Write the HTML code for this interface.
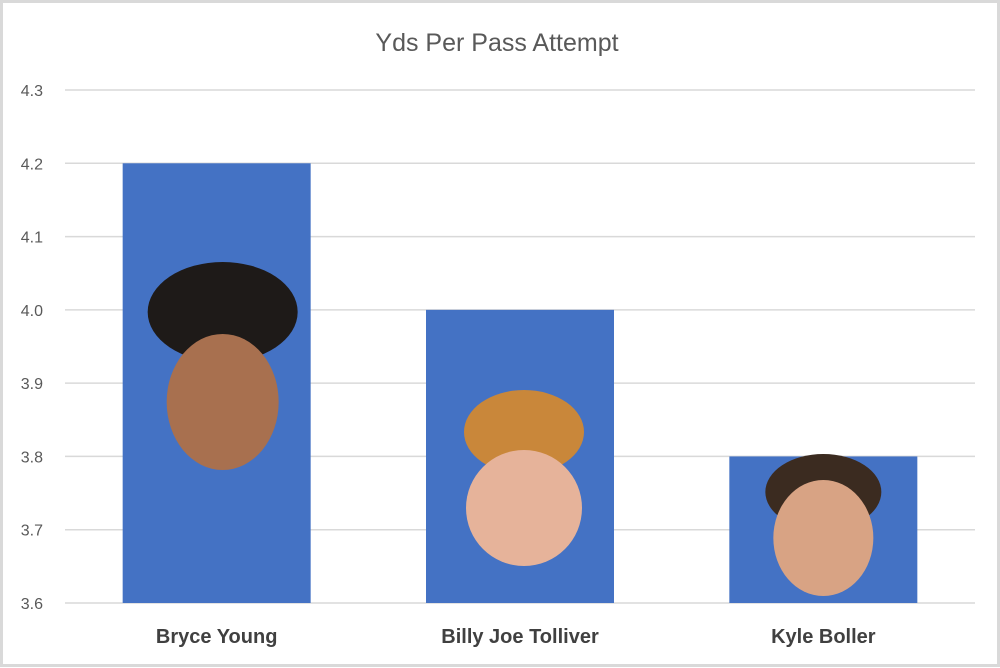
<!DOCTYPE html>
<html><head><meta charset="utf-8"><style>
html,body{margin:0;padding:0;background:#fff;}
#wrap{position:relative;width:1000px;height:668px;overflow:hidden;}
svg text{font-family:"Liberation Sans",sans-serif;}
</style></head><body>
<div id="wrap">
<svg id="chart" width="1000" height="668" viewBox="0 0 1000 668">
<rect x="1.5" y="1.5" width="997" height="664" fill="#fff" stroke="#d9d9d9" stroke-width="3"/>
<text x="497" y="51" text-anchor="middle" font-size="25" fill="#595959">Yds Per Pass Attempt</text>
<g id="grid"></g><g id="bars"></g><g id="faces"></g><g id="labels"></g>
</svg>
</div>
<script>
const categories = ["Bryce Young","Billy Joe Tolliver","Kyle Boller"];
const values = [4.2, 4.0, 3.8];
const ticks = [3.6,3.7,3.8,3.9,4.0,4.1,4.2,4.3];
const yMin=3.6,yMax=4.3,plotTop=90,plotBottom=603,plotLeft=65,plotRight=975;
const NS="http://www.w3.org/2000/svg";
function y(v){return plotBottom-(v-yMin)/(yMax-yMin)*(plotBottom-plotTop);}
const band=(plotRight-plotLeft)/categories.length;
function xc(i){return plotLeft+band*(i+0.5);}
const bw=188;
function mk(t,a,p){const e=document.createElementNS(NS,t);for(const k in a)e.setAttribute(k,a[k]);p.appendChild(e);return e;}
const grid=document.getElementById('grid');
ticks.forEach(t=>{
  const l=mk('line',{x1:plotLeft,x2:plotRight,y1:y(t),y2:y(t),stroke:'#d9d9d9','stroke-width':1.5},grid);
  
  
  const tx=mk('text',{x:43,y:y(t)+6,'text-anchor':'end','font-size':16,fill:'#595959'},grid);
  tx.textContent=t.toFixed(1);
  
  
});
const bars=document.getElementById('bars'),labels=document.getElementById('labels'),faces=document.getElementById('faces');
categories.forEach((c,i)=>{
  const b=mk('rect',{x:xc(i)-bw/2,y:y(values[i]),width:bw,height:plotBottom-y(values[i]),fill:'#4472c4'},bars);
  
  
  const t=mk('text',{x:xc(i),y:643,'text-anchor':'middle','font-size':20,'font-weight':'bold',fill:'#404040'},labels);
  t.textContent=c;
  
  
});
const fd=[
 {cx:xc(0)+6,hair:'#1e1a18',skin:'#a8704f',hy:312,hrx:75,hry:50,fy:402,frx:56,fry:68},
 {cx:xc(1)+4,hair:'#c9873a',skin:'#e6b39a',hy:432,hrx:60,hry:42,fy:508,frx:58,fry:58},
 {cx:xc(2),hair:'#3b2b20',skin:'#d8a384',hy:492,hrx:58,hry:38,fy:538,frx:50,fry:58}
];
fd.forEach(f=>{
  const g=mk('g',{},faces);
  
  
  mk('ellipse',{cx:f.cx,cy:f.hy,rx:f.hrx,ry:f.hry,fill:f.hair},g);
  mk('ellipse',{cx:f.cx,cy:f.fy,rx:f.frx,ry:f.fry,fill:f.skin},g);
});
</script>
</body></html>
